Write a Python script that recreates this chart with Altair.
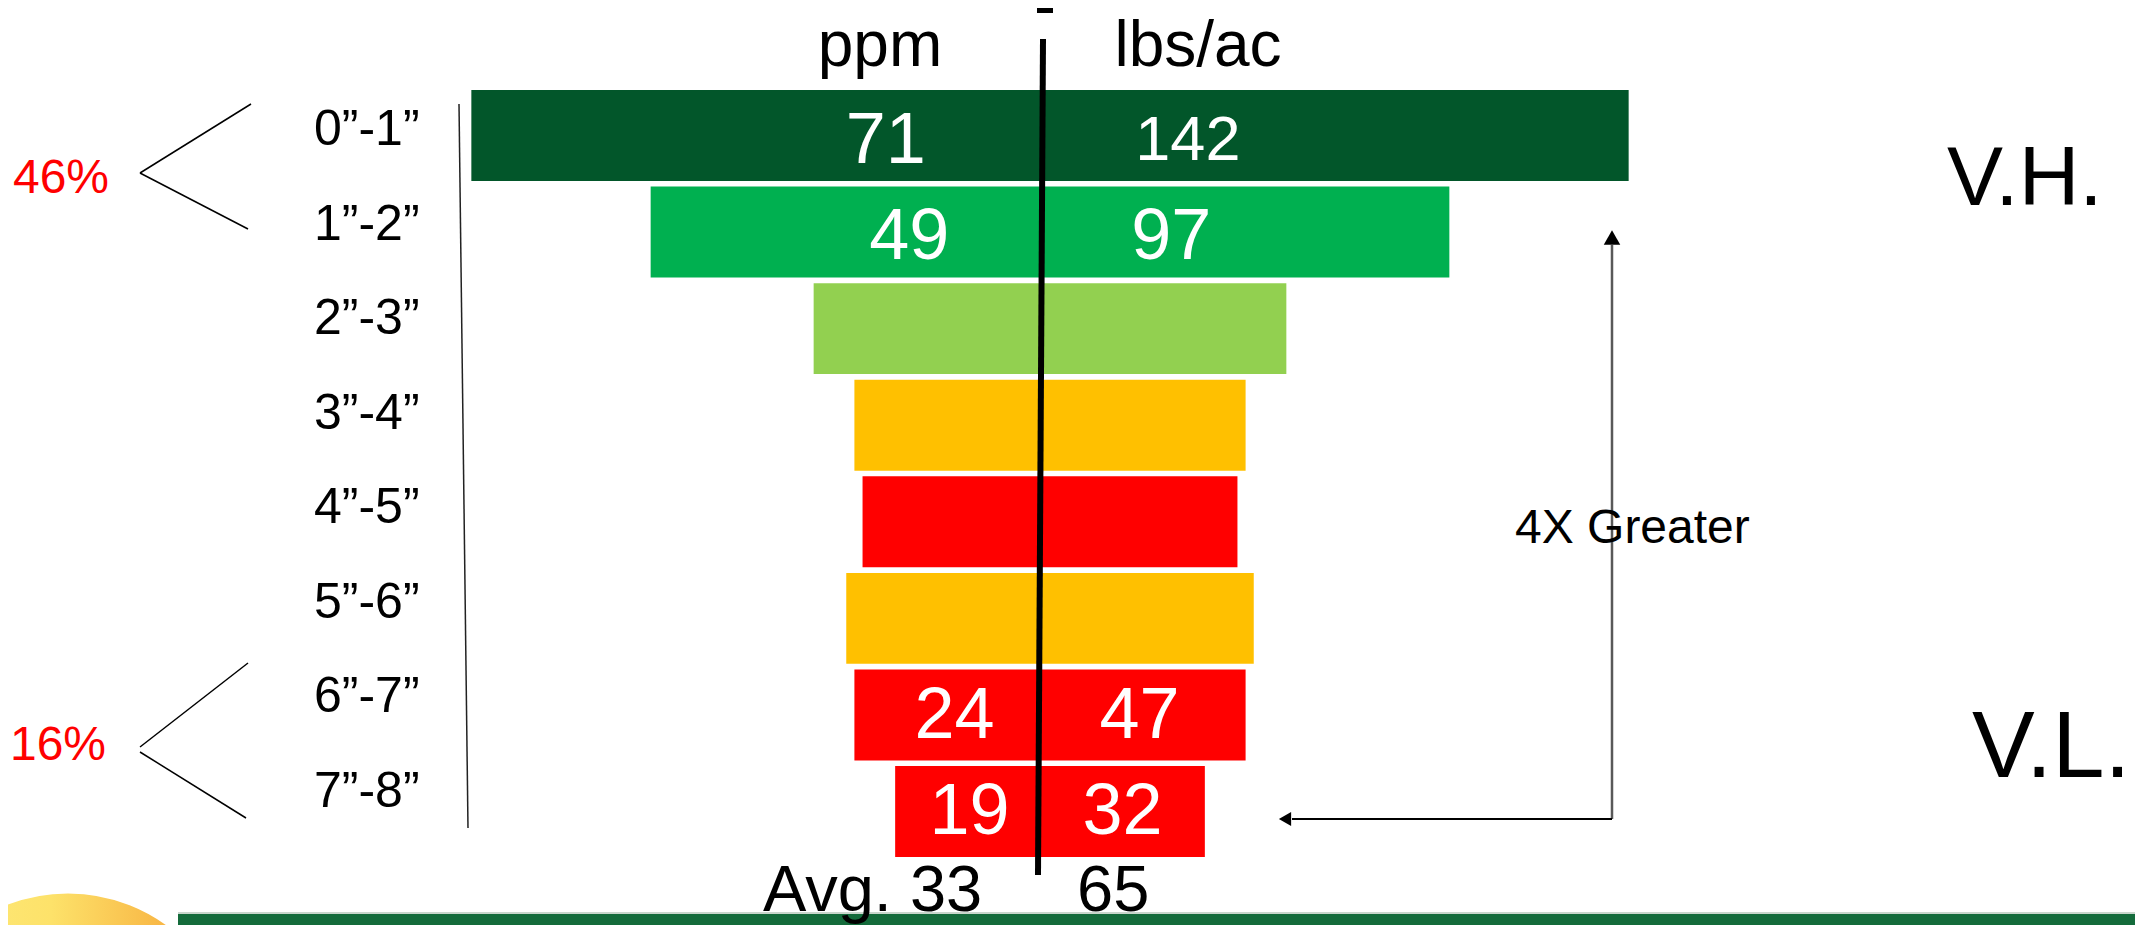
import altair as alt
import pandas as pd
import numpy as np

# ---------------- data ----------------
depths = ["0”-1”", "1”-2”", "2”-3”", "3”-4”", "4”-5”", "5”-6”", "6”-7”", "7”-8”"]
ppm = [71, 49, 29, 24, 23, 25, 24, 19]
lbs_ac = [142, 97, 58, 48, 46, 50, 47, 32]
value_shown = [True, True, False, False, False, False, True, True]
bracket_pct = ["46%", "16%"]
units = ["ppm", "lbs/ac"]
ratings = ["V.H.", "V.L."]
arrow_note = "4X Greater"

# ---------------- styling constants ----------------
BAR_COLORS = ["#02562A", "#00B050", "#92D050", "#FFC000", "#FF0000", "#FFC000", "#FF0000", "#FF0000"]
FONT = "Liberation Sans"
W, H = 2127, 917       # page 2143x933 minus the 8px body margin on each side
CENTER = 1042          # funnel axis (chart px)
PX_PER_PPM = 16.3

df = pd.DataFrame({"depth": depths, "ppm": ppm, "lbs": lbs_ac, "shown": value_shown})
avg_ppm = int(round(np.mean(ppm)))
avg_lbs = int(round(np.mean(lbs_ac)))

xscale = alt.Scale(domain=[-CENTER / PX_PER_PPM, (W - CENTER) / PX_PER_PPM], range=[0, W])
yband = alt.Scale(domain=depths, range=[82, 849], paddingInner=0.058, paddingOuter=0)
ypoint = alt.Scale(type="point", domain=depths, range=[119, 781], padding=0)
cscale = alt.Scale(domain=depths, range=BAR_COLORS)

base = alt.Chart(df)

bars = base.transform_calculate(
    lo="-datum.ppm/2", hi="datum.ppm/2"
).mark_bar(opacity=1).encode(
    x=alt.X("lo:Q", scale=xscale, axis=None),
    x2="hi:Q",
    y=alt.Y("depth:N", scale=yband, axis=None),
    color=alt.Color("depth:N", scale=cscale, legend=None),
)

ppm_labels = base.transform_filter("datum.shown").transform_calculate(
    lx=f"-(63.5*log(datum.ppm) - 106.4)/{PX_PER_PPM}"
).mark_text(font=FONT, color="white", baseline="middle", align="center", dy=3).encode(
    x=alt.X("lx:Q", scale=xscale, axis=None),
    y=alt.Y("depth:N", scale=yband, axis=None),
    text=alt.Text("ppm:Q"),
    size=alt.value(72),
)

lbs_labels = base.transform_filter("datum.shown").transform_calculate(
    rx=f"(43.8*log(datum.lbs) - 79.2)/{PX_PER_PPM}"
).mark_text(font=FONT, color="white", baseline="middle", align="center", dy=3).encode(
    x=alt.X("rx:Q", scale=xscale, axis=None),
    y=alt.Y("depth:N", scale=yband, axis=None),
    text=alt.Text("lbs:Q"),
    size=alt.condition("datum.lbs > 100", alt.value(63), alt.value(72)),
)

depth_labels = base.mark_text(font=FONT, color="black", baseline="middle", align="left",
                              fontSize=50, dy=3).encode(
    x=alt.value(306),
    y=alt.Y("depth:N", scale=ypoint, axis=None),
    text="depth:N",
)

ann = alt.Chart(pd.DataFrame({"k": [0]}))


def seg(x1, y1, x2, y2, color="black", w=1.5):
    return ann.mark_rule(color=color, strokeWidth=w).encode(
        x=alt.value(x1), y=alt.value(y1), x2=alt.value(x2), y2=alt.value(y2))


def txt(s, x, y, size, color="black", align="left"):
    return ann.mark_text(text=s, font=FONT, fontSize=size, color=color, align=align,
                         baseline="alphabetic").encode(x=alt.value(x), y=alt.value(y))


def rect(x1, y1, x2, y2, color):
    return ann.mark_rect(color=color, opacity=1).encode(
        x=alt.value(x1), y=alt.value(y1), x2=alt.value(x2), y2=alt.value(y2))


def tri(shape, x, y, size):
    return ann.mark_point(shape=shape, filled=True, color="black", opacity=1, size=size).encode(
        x=alt.value(x), y=alt.value(y))


band_line = rect(170, 904, W, 906, "#C9D6CC")
band = rect(170, 906, W, H, "#146B3B")
logo = ann.mark_point(
    shape="circle", filled=True, opacity=1, size=(2 * 170) ** 2,
    fill=alt.LinearGradient(
        gradient="linear", x1=0, x2=1, y1=0, y2=0,
        stops=[alt.GradientStop(offset=0, color="#FEEC80"),
               alt.GradientStop(offset=0.45, color="#FDE26A"),
               alt.GradientStop(offset=0.85, color="#F7AE3E"),
               alt.GradientStop(offset=1, color="#F4A030")]),
    stroke="white", strokeWidth=5,
).encode(x=alt.value(60), y=alt.value(1053))

layers = [
    band_line, band, logo,
    bars, ppm_labels, lbs_labels, depth_labels,
    # funnel centre line and its top stub
    seg(1035, 31, 1030, 867, "black", 6),
    rect(1029, 0, 1045, 5, "black"),
    # thin line beside the depth labels
    seg(451, 96, 460, 820, "#222222", 1.5),
    # brackets
    seg(243, 96, 132, 165), seg(132, 165, 240, 221),
    seg(240, 655, 132, 739), seg(132, 744, 238, 810),
    txt(bracket_pct[0], 53, 185, 48, "#FF0000", "center"),
    txt(bracket_pct[1], 50, 752, 48, "#FF0000", "center"),
    # unit headers
    txt(units[0], 872, 58, 64, align="center"),
    txt(units[1], 1190, 58, 64, align="center"),
    # ratings
    txt(ratings[0], 1939, 197, 84),
    txt(ratings[1], 1964, 769, 94),
    # arrow
    seg(1604, 237, 1604, 811, "#595959", 2.5),
    seg(1604, 811, 1284, 811, "black", 2),
    tri("triangle-up", 1604, 229.5, 272),
    tri("triangle-left", 1277, 811, 200),
    txt(arrow_note, 1507, 535, 48),
    # averages
    txt(f"Avg. {avg_ppm}", 755, 903, 65),
    txt(f"{avg_lbs}", 1069, 903, 65),
]

chart = alt.layer(*layers).resolve_scale(y="independent").properties(
    width=W, height=H,
    autosize=alt.AutoSizeParams(type="none"),
    padding=0,
    background="white",
).configure_view(stroke="transparent")

chart.save("out.html", embed_options={"renderer": "svg", "actions": False})
